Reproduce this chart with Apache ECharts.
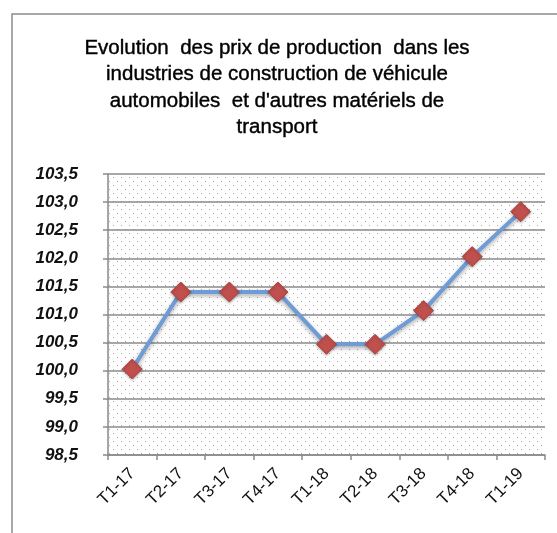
<!DOCTYPE html>
<html>
<head>
<meta charset="utf-8">
<script src="https://cdn.jsdelivr.net/npm/echarts@6/dist/echarts.min.js"></script>
<style>
  html, body { margin: 0; padding: 0; background: #fff; }
  #main { width: 557px; height: 533px; }
</style>
</head>
<body>
<div id="main"></div>
<script>
// données
var trimestres = ['T1-17', 'T2-17', 'T3-17', 'T4-17', 'T1-18', 'T2-18', 'T3-18', 'T4-18', 'T1-19'];
var indices = [100.03, 101.4, 101.4, 101.4, 100.47, 100.47, 101.07, 102.03, 102.83];
var titre = "Evolution  des prix de production  dans les\nindustries de construction de véhicule\nautomobiles  et d'autres matériels de\ntransport";

// motif pointillé du fond de la zone de tracé
var motif = document.createElement('canvas');
motif.width = 8;
motif.height = 8;
var ctx = motif.getContext('2d');
ctx.fillStyle = '#fff';
ctx.fillRect(0, 0, 8, 8);
ctx.fillStyle = '#aaaaaa';
ctx.fillRect(1, 1, 1, 1);
ctx.fillRect(5, 5, 1, 1);

var myChart = echarts.init(document.getElementById('main'));

var option = {
    backgroundColor: '#fff',
    title: {
        text: titre,
        left: 272,
        textAlign: 'center',
        top: 30,
        textStyle: {
            fontFamily: '"Liberation Sans", Arial, sans-serif',
            fontSize: 20.5,
            fontWeight: 'normal',
            lineHeight: 26.5,
            color: '#000',
            textBorderColor: '#000',
            textBorderWidth: 0.4
        }
    },
    graphic: [{
        type: 'rect',
        shape: { x: 12, y: 14, width: 700, height: 700 },
        style: { fill: 'none', stroke: '#8c8c8c', lineWidth: 1.5 },
        silent: true
    }],
    grid: {
        left: 108,
        right: 12,
        top: 174,
        bottom: 78,
        show: true,
        borderWidth: 0,
        backgroundColor: { image: motif, repeat: 'repeat' }
    },
    xAxis: {
        type: 'category',
        data: trimestres,
        boundaryGap: true,
        axisLine: { lineStyle: { color: '#8a8a8a', width: 1.5 } },
        axisTick: { show: true, length: 5, lineStyle: { color: '#8a8a8a', width: 1.5 } },
        axisLabel: {
            rotate: 45,
            margin: 16,
            fontFamily: '"Liberation Sans", Arial, sans-serif',
            fontSize: 17,
            color: '#111'
        },
        splitLine: { show: false }
    },
    yAxis: {
        type: 'value',
        min: 98.5,
        max: 103.5,
        interval: 0.5,
        axisLine: { show: true, lineStyle: { color: '#8a8a8a', width: 1.5 } },
        axisTick: { show: true, length: 5, lineStyle: { color: '#8a8a8a', width: 1.5 } },
        axisLabel: {
            margin: 30,
            fontFamily: '"Liberation Sans", Arial, sans-serif',
            fontSize: 17,
            fontWeight: 'bold',
            fontStyle: 'italic',
            color: '#111',
            formatter: function (v) { return v.toFixed(1).replace('.', ','); }
        },
        splitLine: { show: true, lineStyle: { color: '#8a8a8a', width: 1.5 } }
    },
    series: [{
        type: 'line',
        data: indices,
        symbol: 'diamond',
        symbolSize: 20,
        lineStyle: {
            color: '#6f9bd6',
            width: 4,
            shadowColor: 'rgba(0,0,0,0.35)',
            shadowBlur: 4,
            shadowOffsetY: 2
        },
        itemStyle: {
            color: '#c0504d',
            borderColor: '#b04540',
            borderWidth: 1,
            shadowColor: 'rgba(0,0,0,0.3)',
            shadowBlur: 3,
            shadowOffsetY: 1
        },
        z: 5
    }]
};

myChart.setOption(option);
</script>
</body>
</html>
